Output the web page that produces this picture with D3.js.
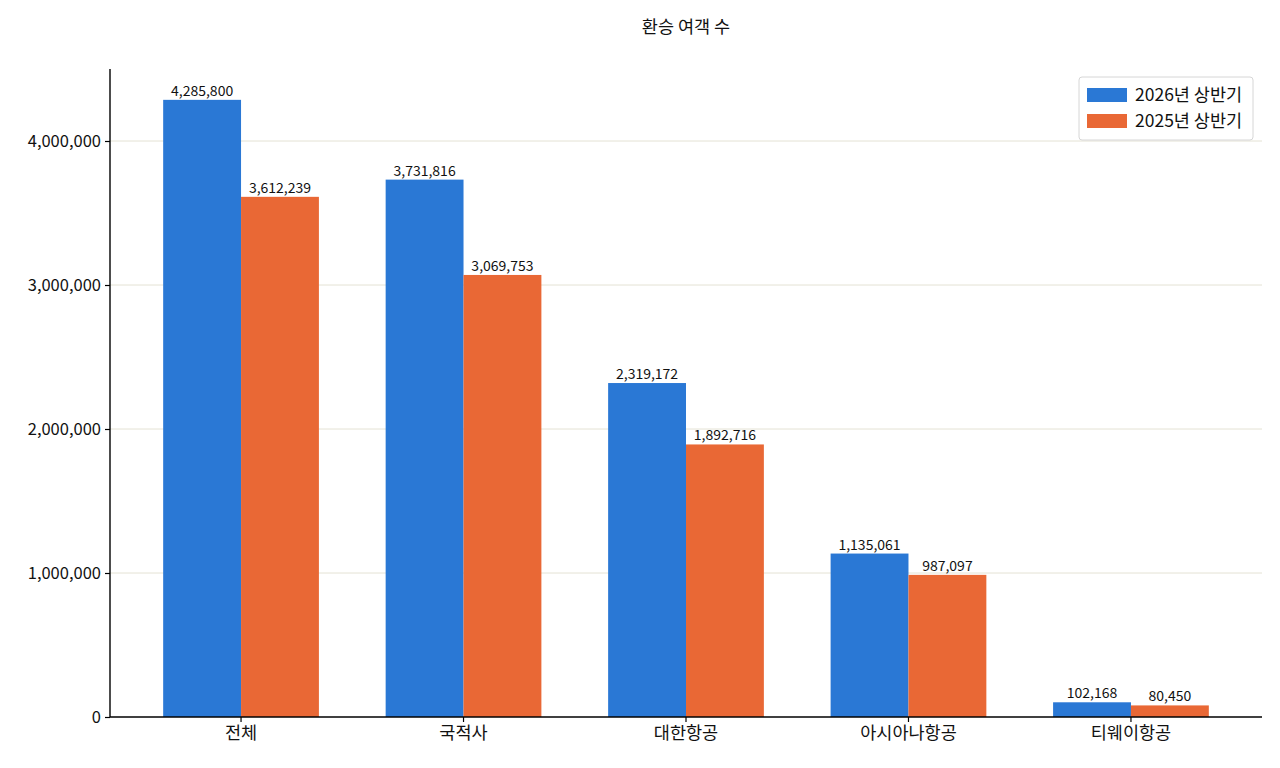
<!DOCTYPE html>
<html>
<head>
<meta charset="utf-8">
<script src="https://cdn.jsdelivr.net/npm/d3@7"></script>
<style>
  body { margin: 0; background: #fff; }
  svg text { font-family: "Noto Sans CJK KR", "Noto Sans", sans-serif; fill: #111; }
</style>
</head>
<body>
<div id="chart"></div>
<script>
// transfer passengers, H1 2026 vs H1 2025

var categories = ['전체', '국적사', '대한항공', '아시아나항공', '티웨이항공'];
var seriesNames = ['2026년 상반기', '2025년 상반기'];
var values2026 = [4285800, 3731816, 2319172, 1135061, 102168];
var values2025 = [3612239, 3069753, 1892716, 987097, 80450];
var yTicks = [0, 1000000, 2000000, 3000000, 4000000];

var colours = ['#2a78d5', '#e96835'];

var width = 1280,
    height = 768,
    margin = {top: 69, right: 18, bottom: 51, left: 110};

var svg = d3.select("#chart").append("svg")
    .attr("width", width)
    .attr("height", height);

var x = d3.scaleBand()
    .domain(categories)
    .range([margin.left, width - margin.right])
    .paddingInner(0.3)
    .paddingOuter(0.239);

var y = d3.scaleLinear()
    .domain([0, 4500000])
    .range([height - margin.bottom, margin.top]);

var fmt = d3.format(",");

// grid
svg.append("g")
    .selectAll("line")
    .data(yTicks.slice(1))
    .enter().append("line")
    .attr("x1", margin.left)
    .attr("x2", width - margin.right)
    .attr("y1", d => y(d))
    .attr("y2", d => y(d))
    .attr("stroke", "#e4e2d4")
    .attr("stroke-width", 1);

var half = x.bandwidth() / 2;
var series = [values2026, values2025];

series.forEach(function(vals, s) {
    var g = svg.append("g");
    g.selectAll("rect")
        .data(vals)
        .enter().append("rect")
        .attr("x", (d, i) => x(categories[i]) + s * half)
        .attr("y", d => y(d))
        .attr("width", half)
        .attr("height", d => y(0) - y(d))
        .attr("fill", colours[s]);

    g.selectAll("text")
        .data(vals)
        .enter().append("text")
        .attr("x", (d, i) => x(categories[i]) + s * half + half / 2)
        .attr("y", d => y(d) - 4)
        .attr("text-anchor", "middle")
        .attr("font-size", 14)
        .text(d => fmt(d));
});

// axes
var yAxis = svg.append("g")
    .attr("transform", "translate(" + margin.left + ",0)")
    .call(d3.axisLeft(y).tickValues(yTicks).tickFormat(fmt).tickSize(5).tickPadding(4));

var xAxis = svg.append("g")
    .attr("transform", "translate(0," + (height - margin.bottom) + ")")
    .call(d3.axisBottom(x).tickSize(5).tickPadding(5));

[xAxis, yAxis].forEach(function(a) {
    a.select(".domain").attr("stroke", "#000").attr("stroke-width", 1.4);
    a.selectAll(".tick line").attr("stroke", "#000").attr("stroke-width", 1.2);
    a.selectAll(".tick text").attr("fill", "#111");
});
yAxis.selectAll(".tick text").attr("font-size", 16.5);
xAxis.selectAll(".tick text").attr("font-size", 17.5);
// keep spines flat (no outer ticks)
yAxis.select(".domain").attr("d", "M0," + y(4500000) + "V" + y(0));
xAxis.select(".domain").attr("d", "M" + margin.left + ",0H" + (width - margin.right));

// title
svg.append("text")
    .attr("x", (margin.left + width - margin.right) / 2)
    .attr("y", 33)
    .attr("text-anchor", "middle")
    .attr("font-size", 17.5)
    .text("환승 여객 수");

// legend
var lg = svg.append("g").attr("transform", "translate(1079,77)");
lg.append("rect")
    .attr("width", 174).attr("height", 63).attr("rx", 3)
    .attr("fill", "#fff").attr("fill-opacity", 0.85)
    .attr("stroke", "#d6d6d6");
seriesNames.forEach(function(n, i) {
    lg.append("rect")
        .attr("x", 8).attr("y", 11 + i * 26)
        .attr("width", 40).attr("height", 14)
        .attr("fill", colours[i]);
    lg.append("text")
        .attr("x", 56).attr("y", 24 + i * 26)
        .attr("font-size", 17.5)
        .text(n);
});
</script>
</body>
</html>
